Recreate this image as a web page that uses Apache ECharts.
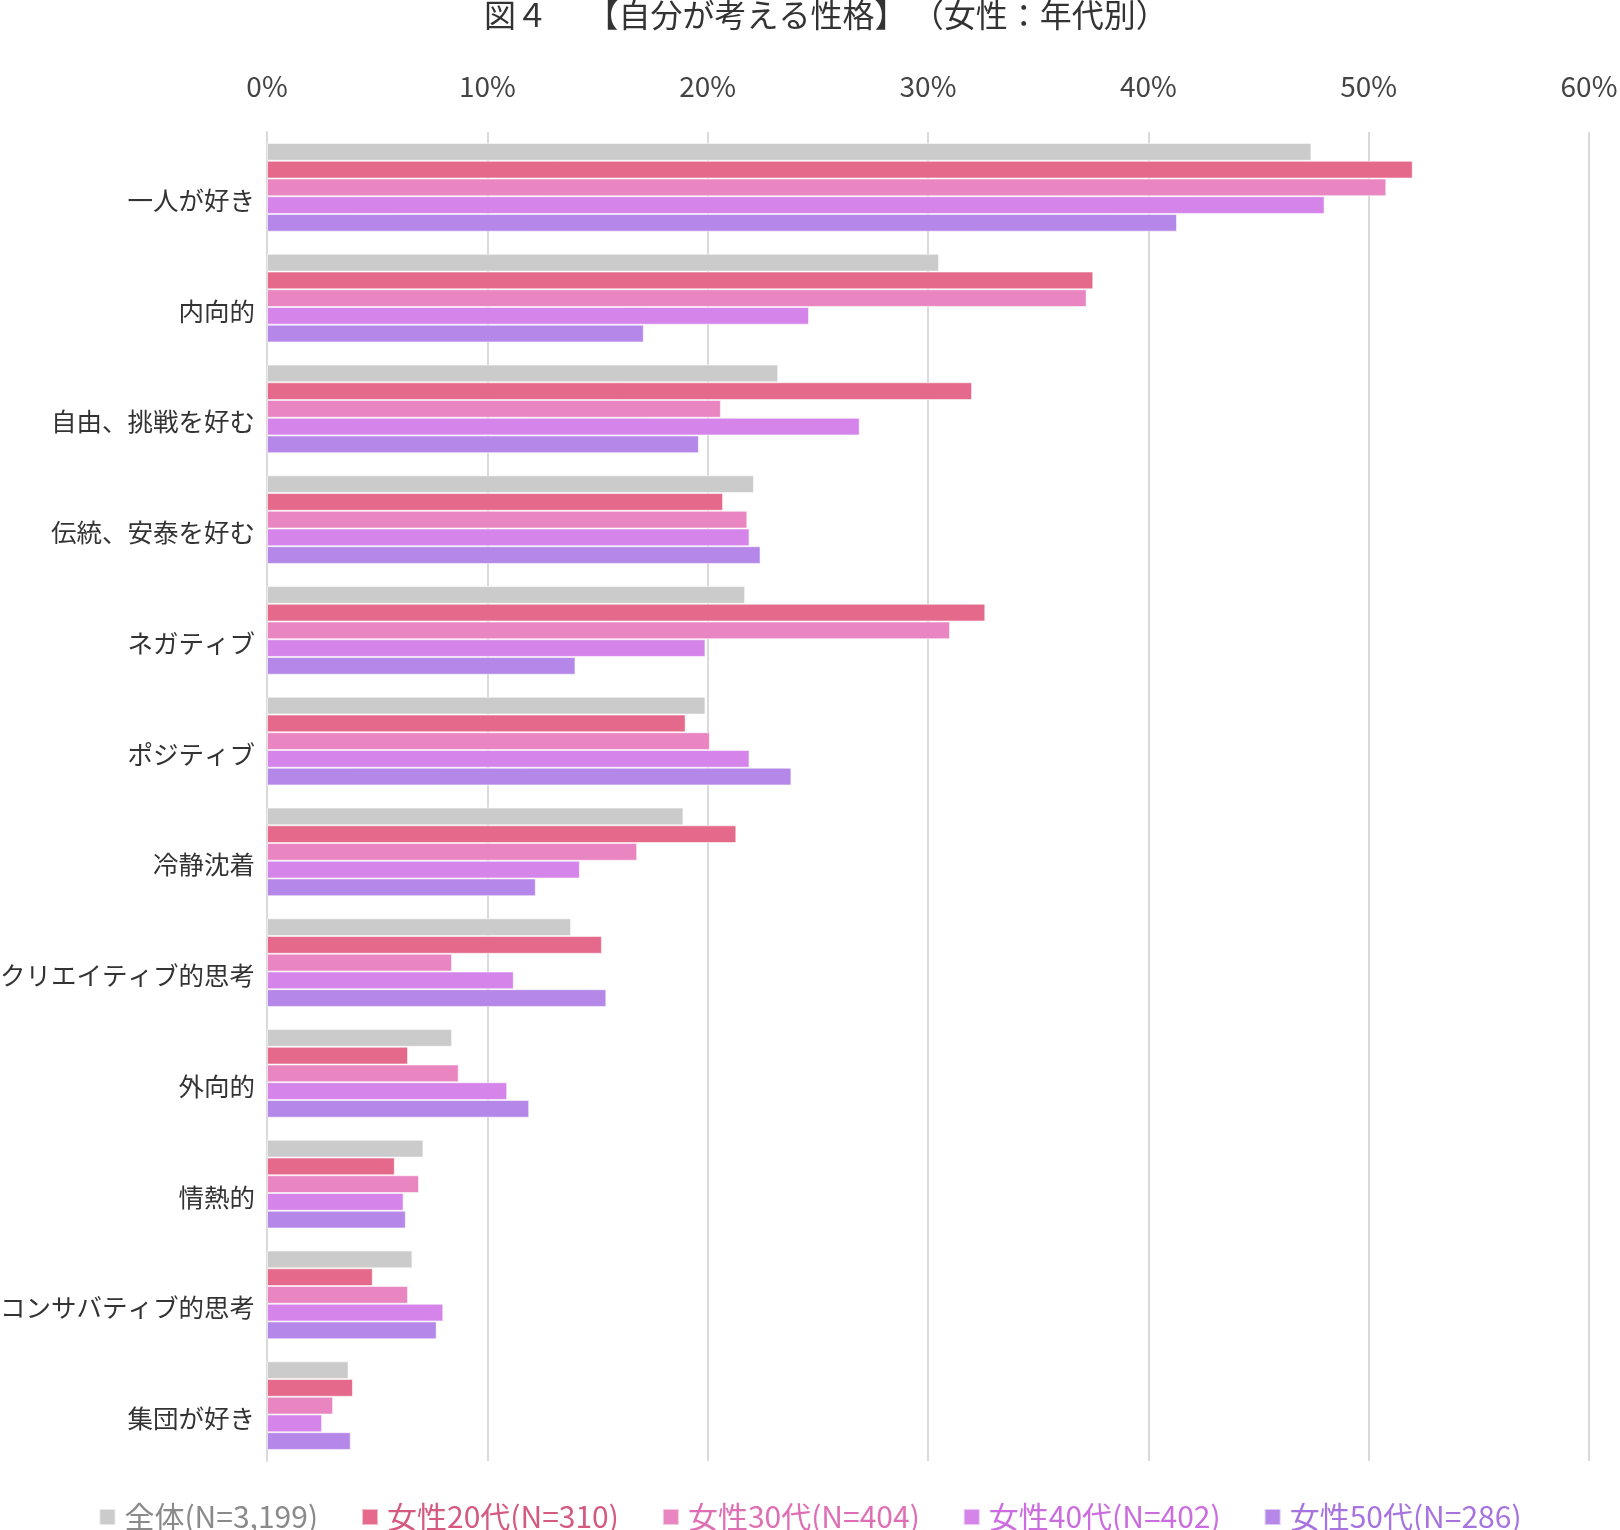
<!DOCTYPE html>
<html>
<head>
<meta charset="utf-8">
<script src="https://cdn.jsdelivr.net/npm/echarts@6/dist/echarts.min.js"></script>
<style>html,body{margin:0;padding:0;background:#fff;}#c{width:1620px;height:1530px;}</style>
</head>
<body>
<div id="c"></div>
<script>
const categories = ['一人が好き','内向的','自由、挑戦を好む','伝統、安泰を好む','ネガティブ','ポジティブ','冷静沈着','クリエイティブ的思考','外向的','情熱的','コンサバティブ的思考','集団が好き'];
const seriesNames = ['全体(N=3,199)','女性20代(N=310)','女性30代(N=404)','女性40代(N=402)','女性50代(N=286)'];
const all      = [47.4, 30.5, 23.2, 22.1, 21.7, 19.9, 18.9, 13.8, 8.4, 7.1, 6.6, 3.7];
const f20      = [52.0, 37.5, 32.0, 20.7, 32.6, 19.0, 21.3, 15.2, 6.4, 5.8, 4.8, 3.9];
const f30      = [50.8, 37.2, 20.6, 21.8, 31.0, 20.1, 16.8, 8.4, 8.7, 6.9, 6.4, 3.0];
const f40      = [48.0, 24.6, 26.9, 21.9, 19.9, 21.9, 14.2, 11.2, 10.9, 6.2, 8.0, 2.5];
const f50      = [41.3, 17.1, 19.6, 22.4, 14.0, 23.8, 12.2, 15.4, 11.9, 6.3, 7.7, 3.8];
const xTicks   = [0, 10, 20, 30, 40, 50, 60];

const values = [all, f20, f30, f40, f50];
const barColors = ['#cbcbcb','#e4698a','#e986c1','#d585ea','#b587e8'];
const textColors = ['#8a8a8a','#d45a80','#df6fb4','#cb6ddf','#a774df'];
const FONT = '"Noto Sans CJK JP", "Noto Sans", sans-serif';

const chart = echarts.init(document.getElementById('c'));
chart.setOption({
  animation: false,
  backgroundColor: '#fff',
  title: {
    text: '図４　\u2009【自分が考える性格】\u2006（女性：年代別）',
    left: 484, top: -1, padding: 0,
    textStyle: {fontFamily: FONT, fontSize: 32, fontWeight: 'normal', color: '#333'}
  },
  legend: {
    data: seriesNames.map((n, i) => ({name: n, textStyle: {color: textColors[i]}})),
    left: 'center', top: 1497,
    itemWidth: 16, itemHeight: 16, itemGap: 43,
    icon: 'rect',
    textStyle: {fontFamily: FONT, fontSize: 30, padding: [0, 0, 0, 4]}
  },
  grid: {left: 267, right: 31, top: 132, bottom: 69, containLabel: false, outerBoundsMode: 'none'},
  xAxis: {
    type: 'value', position: 'top',
    min: xTicks[0], max: xTicks[xTicks.length - 1], interval: 10,
    axisLine: {show: false}, axisTick: {show: false},
    axisLabel: {formatter: '{value}%', fontFamily: FONT, fontSize: 28, color: '#444', margin: 32},
    splitLine: {show: true, lineStyle: {color: '#dadada', width: 2}}
  },
  yAxis: {
    type: 'category', data: categories, inverse: true,
    axisLine: {show: true, lineStyle: {color: '#dadada', width: 2}},
    axisTick: {show: false},
    axisLabel: {fontFamily: FONT, fontSize: 25.5, color: '#333', margin: 12, verticalAlign: 'top'}
  },
  series: seriesNames.map((n, i) => ({
    name: n, type: 'bar', data: values[i],
    barGap: '0%', barCategoryGap: '20%',
    itemStyle: {color: barColors[i], borderColor: 'rgba(255,255,255,0.55)', borderWidth: 1}
  }))
});
</script>
</body>
</html>
